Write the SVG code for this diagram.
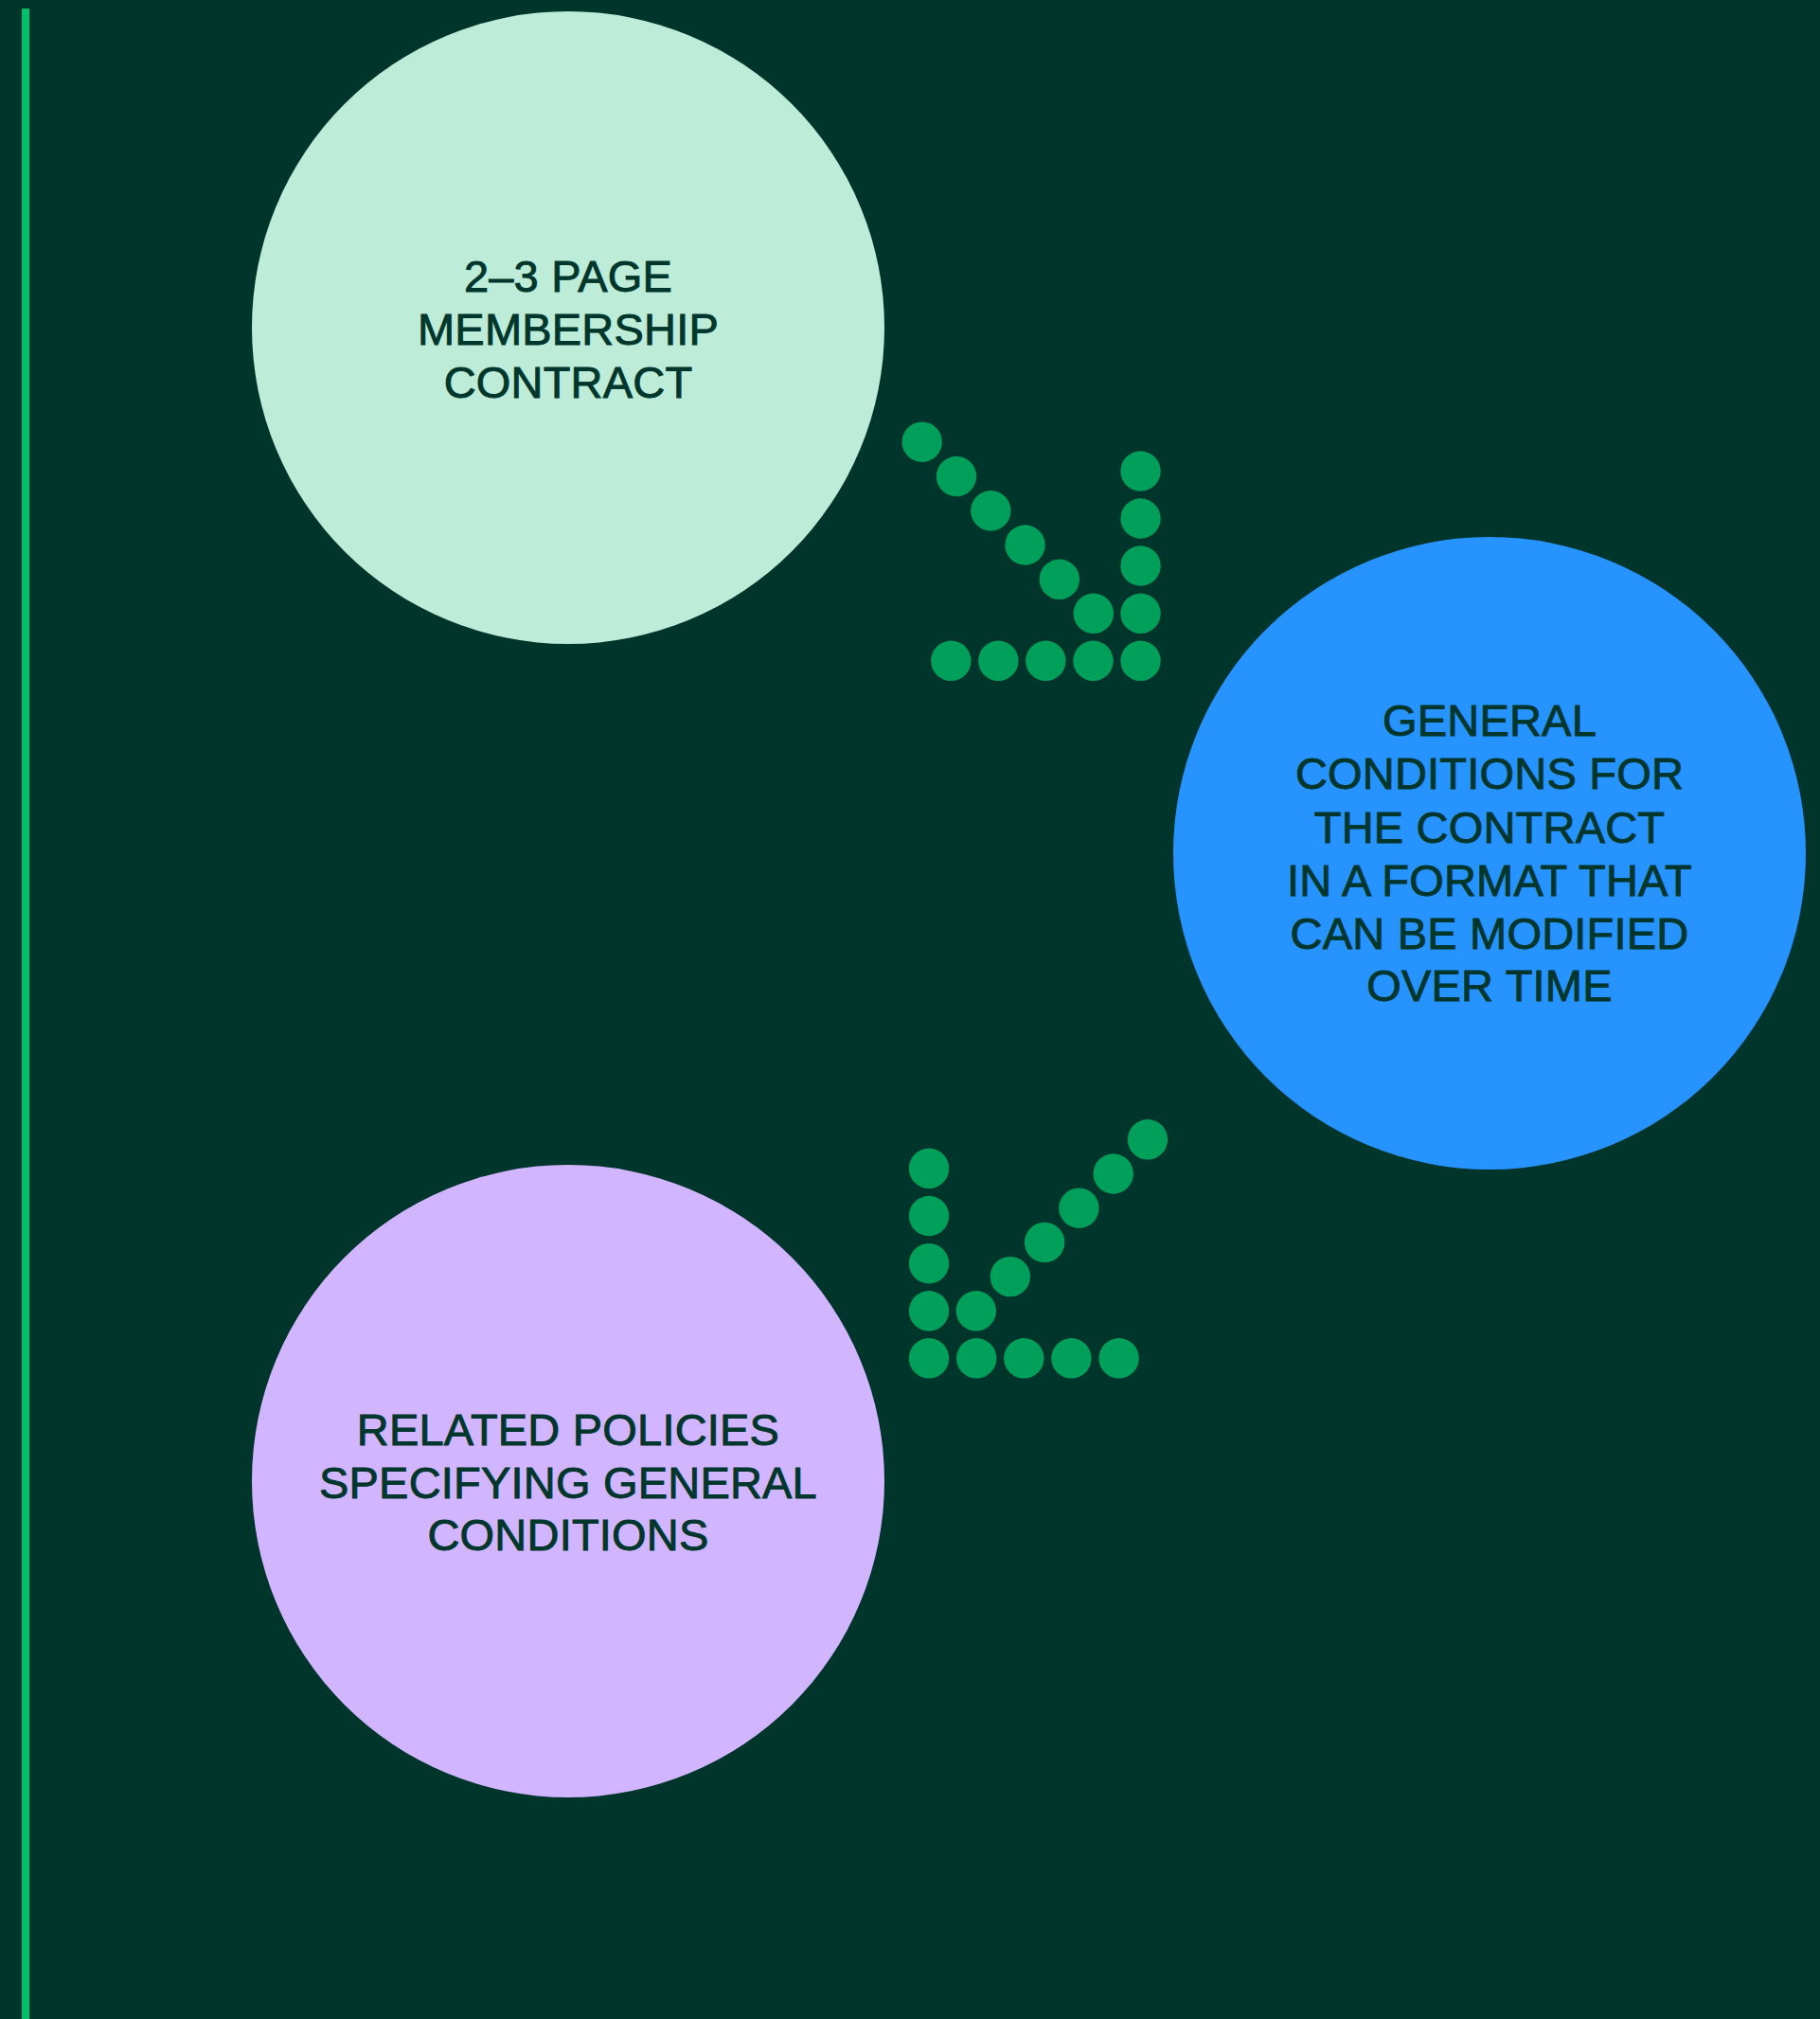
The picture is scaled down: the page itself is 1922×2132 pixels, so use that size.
<svg xmlns="http://www.w3.org/2000/svg" width="1922" height="2132" viewBox="0 0 1922 2132">
<style>
.lbl{font-family:"Liberation Sans",Arial,sans-serif;font-size:47px;fill:#00362b;stroke:#00362b;stroke-width:0.9px;text-anchor:middle;letter-spacing:0.2px}
.dot{fill:#00a05b}
</style>
<rect x="0" y="0" width="1922" height="2132" fill="#00352c"/>
<rect x="23" y="9" width="8" height="2123" fill="#00c16a"/>
<g id="node-membership">
<circle cx="600" cy="346" r="334" fill="#bdedd9"/>
<text class="lbl" x="600" y="308">2–3 PAGE</text>
<text class="lbl" x="600" y="364">MEMBERSHIP</text>
<text class="lbl" x="600" y="420">CONTRACT</text>
</g>
<g id="node-general">
<circle cx="1573" cy="901" r="334" fill="#2693ff"/>
<text class="lbl" x="1573" y="777">GENERAL</text>
<text class="lbl" x="1573" y="833">CONDITIONS FOR</text>
<text class="lbl" x="1573" y="890">THE CONTRACT</text>
<text class="lbl" x="1573" y="946">IN A FORMAT THAT</text>
<text class="lbl" x="1573" y="1002">CAN BE MODIFIED</text>
<text class="lbl" x="1573" y="1057">OVER TIME</text>
</g>
<g id="node-policies">
<circle cx="600" cy="1564" r="334" fill="#d2b5ff"/>
<text class="lbl" x="600" y="1526">RELATED POLICIES</text>
<text class="lbl" x="600" y="1582">SPECIFYING GENERAL</text>
<text class="lbl" x="600" y="1637">CONDITIONS</text>
</g>
<g id="connectors">
<g id="arrow-1">
<circle class="dot" cx="973.7" cy="466.7" r="21.2"/>
<circle class="dot" cx="1010" cy="503" r="21.2"/>
<circle class="dot" cx="1046.3" cy="539.3" r="21.2"/>
<circle class="dot" cx="1082.5" cy="575.5" r="21.2"/>
<circle class="dot" cx="1118.8" cy="611.8" r="21.2"/>
<circle class="dot" cx="1154.8" cy="647.8" r="21.2"/>
<circle class="dot" cx="1204.5" cy="497.5" r="21.2"/>
<circle class="dot" cx="1204.5" cy="547.5" r="21.2"/>
<circle class="dot" cx="1204.5" cy="597.5" r="21.2"/>
<circle class="dot" cx="1204.5" cy="647.8" r="21.2"/>
<circle class="dot" cx="1204.5" cy="697.8" r="21.2"/>
<circle class="dot" cx="1004.3" cy="697.8" r="21.2"/>
<circle class="dot" cx="1054.3" cy="697.8" r="21.2"/>
<circle class="dot" cx="1104.3" cy="697.8" r="21.2"/>
<circle class="dot" cx="1154.5" cy="697.8" r="21.2"/>
</g>
<g id="arrow-2">
<circle class="dot" cx="1212" cy="1203.3" r="21.2"/>
<circle class="dot" cx="1175.7" cy="1239.5" r="21.2"/>
<circle class="dot" cx="1139.4" cy="1275.7" r="21.2"/>
<circle class="dot" cx="1103.1" cy="1311.9" r="21.2"/>
<circle class="dot" cx="1066.8" cy="1348.1" r="21.2"/>
<circle class="dot" cx="1030.8" cy="1384.3" r="21.2"/>
<circle class="dot" cx="981" cy="1233.8" r="21.2"/>
<circle class="dot" cx="981" cy="1284" r="21.2"/>
<circle class="dot" cx="981" cy="1334.2" r="21.2"/>
<circle class="dot" cx="981" cy="1384.3" r="21.2"/>
<circle class="dot" cx="981" cy="1434.3" r="21.2"/>
<circle class="dot" cx="1031.2" cy="1434.3" r="21.2"/>
<circle class="dot" cx="1081.3" cy="1434.3" r="21.2"/>
<circle class="dot" cx="1131.4" cy="1434.3" r="21.2"/>
<circle class="dot" cx="1181.6" cy="1434.3" r="21.2"/>
</g>
</g>
</svg>
